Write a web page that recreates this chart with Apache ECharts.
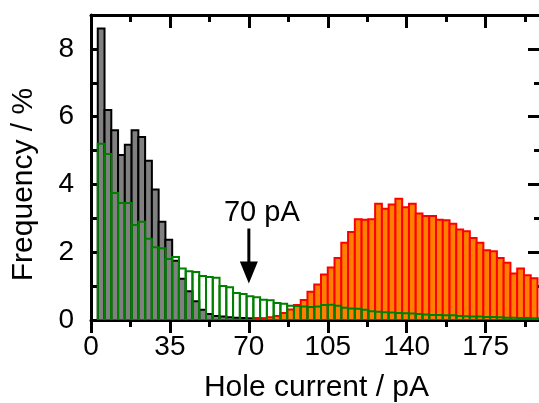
<!DOCTYPE html>
<html>
<head>
<meta charset="utf-8">
<script src="https://cdn.jsdelivr.net/npm/echarts@6/dist/echarts.min.js"></script>
<style>
  html, body { margin: 0; padding: 0; background: #fff; }
  #chart { width: 539px; height: 403px; }
</style>
</head>
<body>
<div id="chart"></div>
<script>
// Histogram bin width (pA) and the left edge of each series' first bin
const binWidth = 3;

// Open-pore-free events (grey, black outline)
const grayFirstBin = 3;
const grayFreq = [8.6, 6.2, 5.6, 4.87, 5.17, 5.6, 5.4, 4.7, 3.85, 2.9,
  2.37, 1.75, 1.22, 0.85, 0.55, 0.3, 0.18, 0.12, 0.1, 0.08,
  0.07, 0.06, 0.05, 0.05, 0.04, 0.04, 0.03, 0.03, 0.02, 0.02];

// Open-pore distribution (orange, red outline)
const redFirstBin = 72;
const redFreq = [0.03, 0.05, 0.08, 0.12, 0.21, 0.31, 0.44, 0.59, 0.83, 1.05,
  1.34, 1.55, 1.83, 2.28, 2.6, 2.97, 2.96, 2.97, 3.43, 3.28,
  3.41, 3.58, 3.33, 3.43, 3.14, 3.07, 3.07, 2.96, 2.94, 2.84,
  2.67, 2.62, 2.42, 2.28, 2.06, 2.03, 1.83, 1.69, 1.37, 1.52,
  1.32, 1.23];

// Mixed distribution (green outline, no fill)
const greenFirstBin = 3;
const greenFreq = [5.2, 4.9, 3.75, 3.45, 3.45, 2.8, 2.9, 2.4, 2.15, 2.12,
  1.8, 1.86, 1.52, 1.44, 1.42, 1.3, 1.27, 1.25, 1.0, 0.97,
  0.8, 0.77, 0.7, 0.67, 0.6, 0.58, 0.5, 0.48, 0.42, 0.41,
  0.4, 0.38, 0.4, 0.44, 0.45, 0.42, 0.36, 0.34, 0.33, 0.3,
  0.26, 0.24, 0.23, 0.22, 0.21, 0.2, 0.19, 0.18, 0.16, 0.15,
  0.15, 0.14, 0.14, 0.12, 0.11, 0.1, 0.1, 0.09, 0.09, 0.08,
  0.07, 0.07, 0.06, 0.06, 0.05, 0.05];

// Threshold marker
const thresholdCurrent = 70;
const thresholdLabel = '70 pA';
const arrowTopFreq = 2.7;
const arrowTipFreq = 1.08;

// Axis settings
const xMin = 0, xMax = 200, xStep = 35;
const yMin = 0, yMax = 9, yStep = 2;
const xTitle = 'Hole current / pA';
const yTitle = 'Frequency / %';

const FONT = '"Liberation Sans", Arial, Helvetica, sans-serif';

function toBins(first, values) {
  return values.map((v, i) => [first + i * binWidth, first + (i + 1) * binWidth, v]);
}

function barRenderer(fill, stroke) {
  return function (params, api) {
    const p0 = api.coord([api.value(0), api.value(2)]);
    const p1 = api.coord([api.value(1), 0]);
    return {
      type: 'rect',
      shape: { x: p0[0], y: p0[1], width: p1[0] - p0[0], height: p1[1] - p0[1] },
      style: { fill: fill, stroke: stroke, lineWidth: 2 }
    };
  };
}

const chart = echarts.init(document.getElementById('chart'), null, { renderer: 'canvas' });

const axisLine = { show: true, onZero: false, lineStyle: { color: '#000', width: 3 } };

chart.setOption({
  animation: false,
  backgroundColor: '#fff',
  grid: { left: 91, right: -3, top: 15, bottom: 83, containLabel: false, outerBoundsMode: 'none' },
  xAxis: [
    {
      type: 'value', position: 'bottom', min: xMin, max: xMax, interval: xStep,
      axisLine: axisLine,
      axisTick: { show: true, inside: false, length: 13, lineStyle: { color: '#000', width: 3 } },
      minorTick: { show: true, splitNumber: 2, length: 7, lineStyle: { color: '#000', width: 3 } },
      splitLine: { show: false },
      axisLabel: {
        margin: 13, color: '#000', fontSize: 28, fontFamily: FONT,
        formatter: v => (v % xStep === 0 ? String(v) : '')
      },
      name: xTitle, nameLocation: 'middle', nameGap: 53,
      nameTextStyle: { color: '#000', fontSize: 30, fontFamily: FONT }
    },
    {
      type: 'value', position: 'top', min: xMin, max: xMax, interval: xStep,
      axisLine: axisLine,
      axisTick: { show: true, inside: true, length: 13, lineStyle: { color: '#000', width: 3 } },
      minorTick: { show: true, splitNumber: 2, length: 7, lineStyle: { color: '#000', width: 3 } },
      splitLine: { show: false },
      axisLabel: { show: false }
    }
  ],
  yAxis: [
    {
      type: 'value', position: 'left', min: yMin, max: yMax, interval: yStep,
      axisLine: axisLine,
      axisTick: { show: true, inside: true, length: 12, lineStyle: { color: '#000', width: 3 } },
      minorTick: { show: true, splitNumber: 2, length: 7, lineStyle: { color: '#000', width: 3 } },
      splitLine: { show: false },
      axisLabel: {
        margin: 17, color: '#000', fontSize: 28, fontFamily: FONT,
        formatter: v => (v % yStep === 0 ? String(v) : '')
      },
      name: yTitle, nameLocation: 'middle', nameGap: 52,
      nameTextStyle: { color: '#000', fontSize: 30, fontFamily: FONT, padding: [0, 34, 0, 0] }
    },
    {
      type: 'value', position: 'right', min: yMin, max: yMax, interval: yStep,
      axisLine: axisLine,
      axisTick: { show: true, inside: true, length: 14, lineStyle: { color: '#000', width: 3 } },
      minorTick: { show: true, splitNumber: 2, length: 8, lineStyle: { color: '#000', width: 3 } },
      splitLine: { show: false },
      axisLabel: { show: false }
    }
  ],
  series: [
    {
      type: 'custom', name: 'grey', clip: true, z: 2,
      renderItem: barRenderer('#808080', '#000000'),
      encode: { x: [0, 1], y: 2 },
      data: toBins(grayFirstBin, grayFreq)
    },
    {
      type: 'custom', name: 'orange', clip: true, z: 3,
      renderItem: barRenderer('#FF8000', '#FF0000'),
      encode: { x: [0, 1], y: 2 },
      data: toBins(redFirstBin, redFreq)
    },
    {
      type: 'custom', name: 'green', clip: true, z: 4,
      renderItem: barRenderer('none', '#008000'),
      encode: { x: [0, 1], y: 2 },
      data: toBins(greenFirstBin, greenFreq)
    },
    {
      type: 'custom', name: 'threshold', z: 5,
      renderItem: function (params, api) {
        const top = api.coord([api.value(0), api.value(1)]);
        const tip = api.coord([api.value(0), api.value(2)]);
        const headH = 22, headW = 9;
        return {
          type: 'group',
          children: [
            {
              type: 'line',
              shape: { x1: top[0], y1: top[1], x2: tip[0], y2: tip[1] - headH + 2 },
              style: { stroke: '#000', lineWidth: 3 }
            },
            {
              type: 'polygon',
              shape: { points: [[tip[0] - headW, tip[1] - headH], [tip[0] + headW, tip[1] - headH], [tip[0], tip[1]]] },
              style: { fill: '#000' }
            },
            {
              type: 'text',
              x: top[0] + 13, y: top[1] - 1,
              style: {
                text: thresholdLabel, fill: '#000', fontSize: 29, fontFamily: FONT,
                align: 'center', verticalAlign: 'bottom'
              }
            }
          ]
        };
      },
      data: [[thresholdCurrent, arrowTopFreq, arrowTipFreq]]
    }
  ]
});
</script>
</body>
</html>
